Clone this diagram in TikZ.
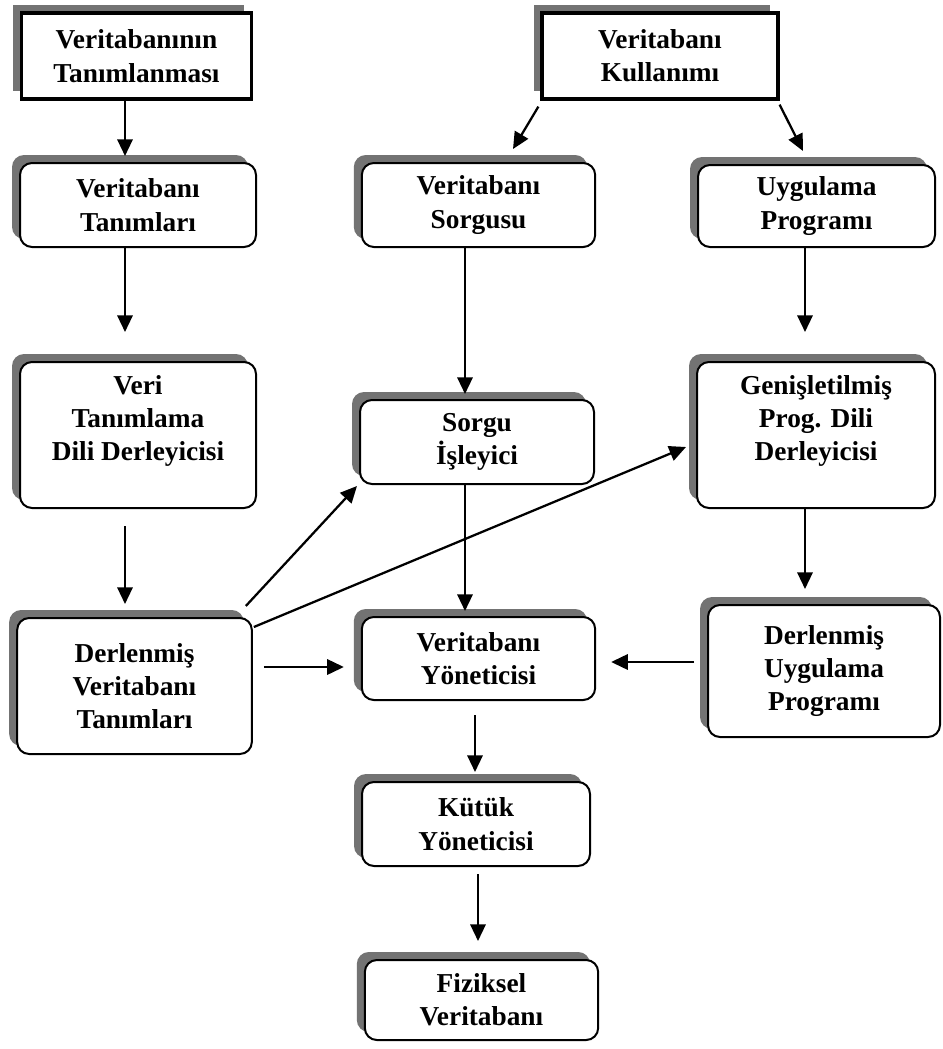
\documentclass[tikz,border=0pt]{standalone}
\usepackage{fontspec}
\setmainfont{Liberation Serif}
\usetikzlibrary{shadows,arrows.meta,calc}
\begin{document}
\begin{tikzpicture}[x=0.75pt,y=-0.75pt,
  shadowed/.style={general shadow={shadow xshift=-6pt,shadow yshift=6pt,fill=black!55}},
  boxfont/.style={font=\fontsize{20.5}{25}\selectfont\bfseries},
  topbox/.style={draw,line width=2.4pt,fill=white,shadowed,align=center,boxfont,inner sep=2pt},
  rbox/.style={draw,line width=1.5pt,rounded corners=9pt,fill=white,shadowed,align=center,boxfont,inner sep=2pt},
  arr/.style={line width=1.7pt,-{Triangle[length=12.5pt,width=11.5pt]}}
]
\useasboundingbox (0,0) rectangle (942,1049);

\node[topbox,minimum width=173pt,minimum height=64.5pt] (A) at (136.5,56) {Veritabanının\\Tanımlanması};
\node[topbox,minimum width=177pt,minimum height=64.5pt] (B) at (660,56) {Veritabanı\\Kullanımı};

\node[rbox,minimum width=177pt,minimum height=63pt] (C) at (138,205) {Veritabanı\\Tanımları};
\node[rbox,minimum width=177pt,minimum height=109.5pt] (D) at (138,435)
  {\parbox{172pt}{\centering Veri\\Tanımlama\\Dili Derleyicisi\par\vspace{21pt}}};
\node[rbox,minimum width=176pt,minimum height=102pt] (E) at (134.5,686) {Derlenmiş\\Veritabanı\\Tanımları};

\node[rbox,minimum width=175pt,minimum height=63pt] (F) at (478.5,205) {Veritabanı\\Sorgusu};
\node[rbox,minimum width=175.5pt,minimum height=63pt] (H) at (477,442) {Sorgu\\İşleyici};
\node[rbox,minimum width=175pt,minimum height=62.25pt] (I) at (478.5,658.5) {Veritabanı\\Yöneticisi};
\node[rbox,minimum width=171pt,minimum height=63pt] (J) at (476,824) {Kütük\\Yöneticisi};
\node[rbox,minimum width=175pt,minimum height=60pt] (K) at (481.5,1000) {Fiziksel\\Veritabanı};

\node[rbox,minimum width=177.75pt,minimum height=61.5pt] (G) at (816.5,206) {Uygulama\\Programı};
\node[rbox,minimum width=178.5pt,minimum height=109.5pt] (L) at (816,435)
  {\parbox{172pt}{\centering Genişletilmiş\\Prog. Dili\\Derleyicisi\par\vspace{21pt}}};
\node[rbox,minimum width=174pt,minimum height=99pt] (M) at (824,671) {Derlenmiş\\Uygulama\\Programı};

% connectors
\draw[arr] ($(A.south)+(-11.5,0)$) -- ($(C.north)+(-13,-6)$);
\draw[arr] ($(C.south)+(-13,0)$) -- ($(D.north)+(-13,-29)$);
\draw[arr] ($(D.south)+(-13,17)$) -- ($(E.north)+(-9.5,-13)$);

\draw[arr] ($(B.south west)+(-2,6)$) -- ($(F.north)+(34.5,-13)$);
\draw[arr] ($(B.south east)+(0,4)$) -- ($(G.north)+(-13.5,-13)$);

\draw[arr] ($(F.south)+(-13.5,0)$) -- ($(H.north)+(-12,-5)$);
\draw[arr] ($(H.south)+(-12,0)$) -- ($(I.north)+(-13.5,-5)$);
\draw[arr] ($(I.south)+(-3.5,14)$) -- ($(J.north)+(-1,-9)$);
\draw[arr] ($(J.south)+(2,7)$) -- ($(K.north)+(-3.5,-18)$);

\draw[arr] ($(G.south)+(-11.5,0)$) -- ($(L.north)+(-11,-29)$);
\draw[arr] ($(L.south)+(-11,0)$) -- ($(M.north)+(-19,-15)$);
\draw[arr] ($(M.west)+(-13,-9)$) -- ($(I.east)+(15,3.5)$);

\draw[arr] ($(E.east)+(11,-19)$) -- ($(I.west)+(-17,8.5)$);
\draw[arr] ($(E.north east)+(-7,-11)$) -- ($(H.south west)+(-2,1)$);
\draw[arr] ($(E.north east)+(1,10)$) -- ($(L.west)+(-10,12)$);
\end{tikzpicture}
\end{document}
